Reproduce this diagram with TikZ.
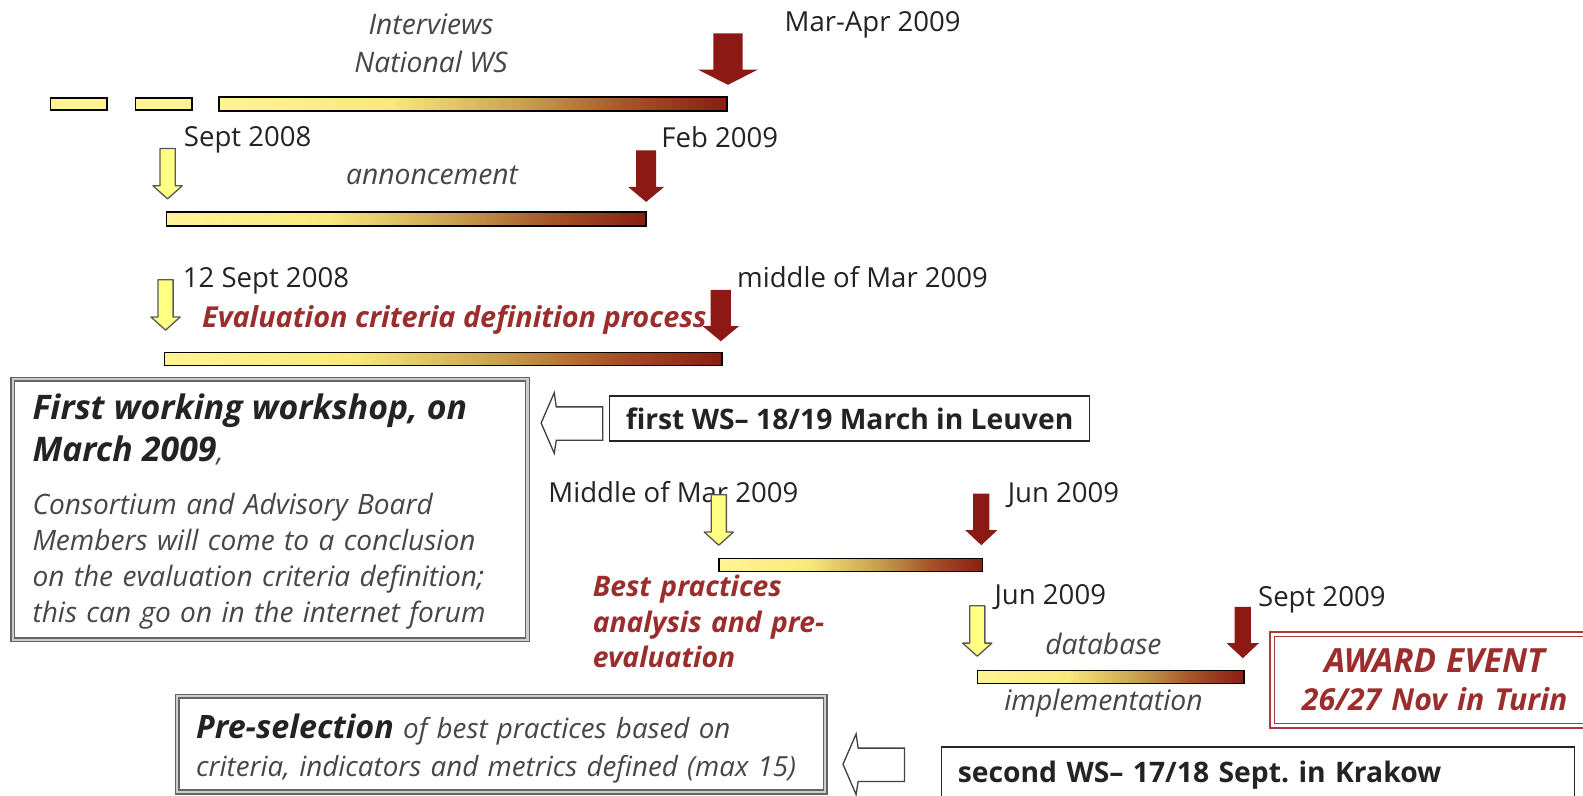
\documentclass[tikz,border=0pt]{standalone}
\usepackage{fontspec}
\setmainfont{Open Sans}
\usetikzlibrary{calc, backgrounds, positioning}
\frenchspacing

\definecolor{txtgray}{RGB}{35,35,35}
\definecolor{notegray}{RGB}{70,70,70}
\definecolor{phasered}{RGB}{155,45,45}
\definecolor{arrowred}{RGB}{140,25,20}
\definecolor{arrowyellow}{RGB}{255,255,130}
\definecolor{boxgray}{RGB}{100,100,100}
\definecolor{boxlight}{RGB}{205,205,205}
\definecolor{awardred}{RGB}{170,60,60}
\definecolor{bary}{RGB}{255,243,150}
\definecolor{bary2}{RGB}{248,232,125}
\definecolor{barm}{RGB}{200,160,80}
\definecolor{barb}{RGB}{165,85,40}
\definecolor{barr}{RGB}{135,30,20}
\pgfdeclarehorizontalshading{timebar}{100bp}{color(0bp)=(bary); color(25bp)=(bary); color(42bp)=(bary2); color(55bp)=(barm); color(65bp)=(barb); color(75bp)=(barr); color(100bp)=(barr)}

\tikzset{
  big red drop/.pic={
    \fill[arrowred] (0,0) -- (-29.5,-15) -- (-14.5,-15) -- (-14.5,-51) -- (14.5,-51) -- (14.5,-15) -- (29.5,-15) -- cycle;
  },
  mid red drop/.pic={
    \fill[arrowred] (0,0) -- (-18,-15) -- (-10,-15) -- (-10,-51) -- (10,-51) -- (10,-15) -- (18,-15) -- cycle;
  },
  red drop/.pic={
    \fill[arrowred] (0,0) -- (-16,-15) -- (-8,-15) -- (-8,-51) -- (8,-51) -- (8,-15) -- (16,-15) -- cycle;
  },
  yellow drop/.pic={
    \filldraw[fill=arrowyellow, draw=black!65, line width=1.3pt, line join=round] (0,0) -- (-14.5,-13) -- (-7.5,-13) -- (-7.5,-50) -- (7.5,-50) -- (7.5,-13) -- (14.5,-13) -- cycle;
  },
  open left/.pic={
    \draw[black!75, line width=1.3pt, fill=white] (0,0) -- (13,-30) -- (15,-16) -- (61,-16) -- (61,17) -- (15,17) -- (13,30) -- cycle;
  }
}

\begin{document}
\begin{tikzpicture}[x=1pt, y=-1pt,
    lbl/.style={anchor=base west, inner sep=0pt, text=txtgray, font=\fontsize{27.3}{30}\selectfont},
    note/.style={anchor=base, inner sep=0pt, text=notegray, font=\fontsize{28}{30}\selectfont\itshape},
    phase/.style={anchor=base west, inner sep=0pt, text=phasered, font=\fontsize{28}{35}\selectfont\bfseries\itshape},
    bar/.style={draw=black, line width=1.5pt, shade, shading=timebar},
    stub/.style={draw=black, line width=1.5pt, fill=bary},
    grey box/.style={draw=boxgray, double=boxlight, double distance=2pt, line width=1.5pt, inner sep=0pt, outer sep=0pt, anchor=north west},
    ws box/.style={draw=black!85, line width=1.5pt, inner sep=0pt, outer sep=0pt, text=txtgray, font=\fontsize{28}{30}\selectfont\bfseries},
  ]
    \path[use as bounding box, fill=white] (0,0) rectangle (1568,788);

    % dissemination: interviews and national workshops
    \node[note] (int) at (427,34) {Interviews};
    \node[note] (nat) at (427,72) {National WS};
    \node[lbl] (marapr) at (777,31) {Mar-Apr 2009};
    \draw[stub] (50,97) rectangle (106,109);
    \draw[stub] (134,97) rectangle (190,109);
    \draw[bar] (217,96) rectangle (720,110);
    \pic at (721,84) {big red drop};

    % call for best practices
    \node[lbl] (sep08) at (182,145) {Sept 2008};
    \node[lbl] (feb09) at (655,146) {Feb 2009};
    \node[note] (ann) at (428,183) {annoncement};
    \draw[bar] (165,210) rectangle (640,224);
    \pic at (166,197) {yellow drop};
    \pic at (640,200) {mid red drop};

    % evaluation criteria
    \node[lbl] (sep12) at (181,285) {12 Sept 2008};
    \node[lbl] (midmar) at (730,285) {middle of Mar 2009};
    \node[phase, font=\fontsize{28.6}{35}\selectfont\bfseries\itshape] (evc) at (200,324) {Evaluation criteria definition process};
    \draw[bar] (163,349) rectangle (715,362);
    \pic at (164,327) {yellow drop};
    \pic at (714,338) {mid red drop};

    % first workshop
    \node[grey box, minimum width=510, minimum height=258] (ws1out) at (12.5,375.5) {};
    \node[anchor=base west, inner sep=0pt, text width=495, align=left, text=notegray, font=\fontsize{27.8}{35.5}\selectfont\itshape] (ws1txt) at (32,416)
      {{\fontsize{33.5}{35.5}\selectfont\bfseries\color{txtgray}First working workshop, on\\[5.5pt] March 2009},\\[17.5pt]
       Consortium and Advisory Board\\ Members will come to a conclusion\\ on the evaluation criteria definition;\\ this can go on in the internet forum};
    \node[ws box, minimum width=475.5, minimum height=44.5, anchor=west] (ws1) at (603.75,414.5) {first WS-- 18/19 March in Leuven};
    \pic at (536,419) {open left};

    % best practices analysis
    \node[lbl] (midmar2) at (543,498) {Middle of Mar 2009};
    \node[lbl] (jun09a) at (998,498) {Jun 2009};
    \draw[bar] (712,553) rectangle (973,566);
    \pic at (712,540) {yellow drop};
    \pic at (972,540) {red drop};
    \node[phase, text width=270, align=left] (bpa) at (587,591) {Best practices\\ analysis and pre-\\ evaluation};

    % database
    \node[lbl] (jun09b) at (985,599) {Jun 2009};
    \node[lbl] (sep09) at (1246,601) {Sept 2009};
    \node[note] (db) at (1093,648) {database};
    \node[note] (impl) at (1093,704) {implementation};
    \draw[bar] (968,664) rectangle (1232,677);
    \pic at (968,650) {yellow drop};
    \pic at (1231,652) {red drop};

    % award
    \node[draw=awardred, double=white, double distance=3pt, line width=1.5pt, inner sep=0pt, outer sep=0pt, anchor=north west, minimum width=330, minimum height=91] (award) at (1260,628) {};
    \node[anchor=base, inner sep=0pt, text width=320, align=center, text=phasered, font=\fontsize{30}{38}\selectfont\bfseries\itshape] (awardtxt) at (1421,666) {{\fontsize{33}{38}\selectfont AWARD EVENT}\\ 26/27 Nov in Turin};

    % pre-selection and second workshop
    \node[grey box, minimum width=642, minimum height=95] (pres) at (175.5,689.5) {};
    \node[anchor=base west, inner sep=0pt, text width=625, align=left, text=notegray, font=\fontsize{27.5}{38}\selectfont\itshape] (prestxt) at (194,731)
      {{\fontsize{32}{38}\selectfont\bfseries\color{txtgray}Pre-selection} of best practices based on\\ criteria, indicators and metrics defined (max 15)};
    \pic at (835,757) {open left};
    \node[ws box, anchor=base west, text width=595, align=left, inner xsep=16pt, inner ysep=10pt, text height=25pt, text depth=25pt] (ws2) at (932.75,775) {second WS-- 17/18 Sept. in Krakow};
\end{tikzpicture}
\end{document}
